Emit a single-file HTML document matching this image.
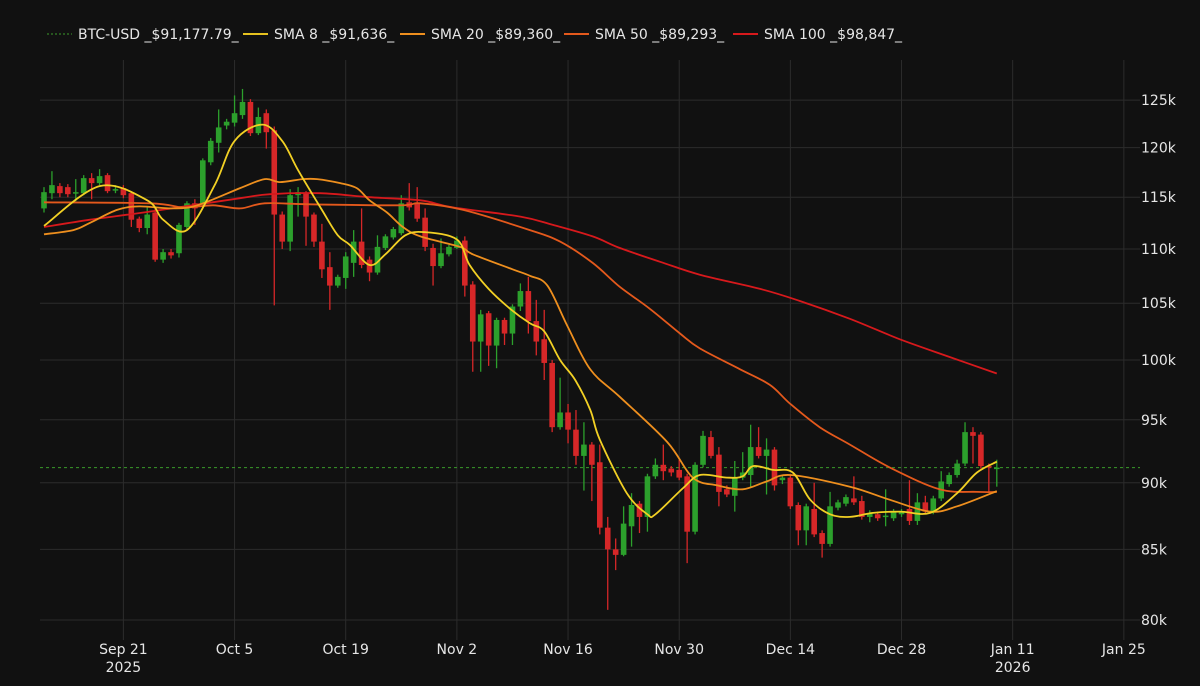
<!DOCTYPE html>
<html><head><meta charset="utf-8"><style>
html,body{margin:0;padding:0;background:#111111;}
svg{display:block;font-family:"DejaVu Sans","Liberation Sans",sans-serif;}
</style></head><body>
<svg id="chart" width="1200" height="686" viewBox="0 0 1200 686">
<rect x="0" y="0" width="1200" height="686" fill="#111111"/>
<g id="grid"></g>
<g id="axes"></g>
<g id="candles"></g>
<g id="smas"></g>
<g id="legend"></g>
</svg>
<script>
// ---- data (prices in $k; day index 0 = Sep 11 2025) ----
const openP = [113.9,115.4,116.1,116.0,115.4,115.4,116.9,116.4,117.2,115.8,115.9,115.4,112.9,112.0,113.5,109.0,109.7,109.6,112.1,114.4,114.4,118.5,120.5,122.3,122.6,123.4,124.8,121.5,123.6,121.8,113.3,110.7,115.2,115.4,113.3,110.7,108.3,106.6,107.3,108.7,110.7,109.0,107.8,110.1,111.1,111.5,114.5,114.4,113.0,110.1,108.4,109.5,110.1,110.8,106.7,101.6,104.1,101.25,103.5,102.3,104.7,106.1,103.4,101.8,99.75,94.4,95.6,94.2,92.1,93.0,91.6,86.6,85.0,84.6,86.7,88.4,87.4,90.5,91.4,91.1,91.0,90.5,86.3,91.4,93.6,92.2,89.5,89.0,90.4,90.6,92.8,92.1,92.6,90.2,90.4,88.3,86.4,88.0,86.2,85.4,88.1,88.4,88.8,88.6,87.4,87.6,87.4,87.3,87.6,88.0,87.1,88.5,87.8,88.8,89.9,90.6,91.5,94.0,93.8,91.3,91.1];
const closeP = [115.5,116.2,115.4,115.3,115.5,116.9,116.4,117.1,115.6,115.8,115.2,112.8,112.0,113.3,109.0,109.7,109.4,112.3,114.4,113.9,118.7,120.7,122.1,122.7,123.6,124.8,121.5,123.2,121.6,113.3,110.7,115.2,115.5,113.1,110.7,108.1,106.6,107.4,109.3,110.7,108.5,107.8,110.2,111.2,111.9,114.4,114.0,112.9,110.2,108.4,109.6,110.2,110.8,106.6,101.6,104.0,101.25,103.5,102.3,104.7,106.1,103.4,101.6,99.75,94.4,95.6,94.2,92.1,93.0,91.4,86.6,85.0,84.6,86.9,88.3,87.4,90.5,91.4,90.9,90.8,90.4,86.3,91.4,93.7,92.1,89.3,89.1,90.4,90.8,92.8,92.1,92.6,89.8,90.4,88.2,86.4,88.2,86.1,85.4,88.2,88.5,88.9,88.5,87.4,87.7,87.3,87.5,87.8,87.8,87.1,88.5,87.8,88.8,90.1,90.6,91.5,94.0,93.7,91.3,91.2,91.18];
const highP = [116.0,117.6,116.4,116.3,116.8,117.2,117.4,117.8,117.4,116.2,116.2,115.6,113.1,114.0,114.0,110.0,110.0,112.5,114.6,114.8,118.9,121.0,124.0,123.0,125.5,126.2,125.1,124.2,124.0,122.2,113.6,115.8,116.0,115.6,113.5,112.4,109.7,107.6,109.7,111.8,113.9,109.3,111.3,111.4,112.1,115.2,116.4,116.0,113.9,110.5,111.0,110.4,111.2,111.2,107.0,104.4,104.3,103.7,103.7,104.9,106.8,107.4,105.3,104.4,100.0,98.5,96.3,95.8,94.8,93.2,93.0,87.4,85.8,88.2,89.2,88.6,90.7,91.9,93.0,91.3,91.8,90.7,91.6,94.1,94.1,92.8,89.8,91.7,92.4,94.6,94.4,93.5,92.8,90.6,90.6,88.5,88.4,90.0,86.4,89.3,88.7,89.1,90.5,89.0,87.9,87.8,89.5,88.0,88.0,90.2,89.2,89.0,89.0,90.9,90.8,91.8,94.8,94.4,94.0,91.5,91.8];
const lowP = [113.5,114.8,115.0,115.0,114.6,115.2,114.8,116.2,115.4,115.4,114.9,112.1,111.6,111.4,108.8,108.7,109.1,109.2,111.8,112.3,114.0,118.2,119.5,121.9,122.2,123.0,121.2,121.3,119.9,104.8,110.0,109.8,113.1,110.3,110.2,107.3,104.4,106.4,106.3,107.4,108.2,107.0,107.6,109.9,110.9,111.3,113.7,112.6,109.8,106.6,108.2,109.3,110.0,105.6,99.0,99.0,99.5,99.3,101.3,101.3,104.3,102.3,100.4,98.3,94.0,94.2,93.1,91.4,89.4,88.6,86.1,80.7,83.5,84.5,85.2,86.2,86.3,90.3,90.2,90.5,90.2,84.0,86.1,91.2,91.9,88.2,88.9,87.8,90.2,89.6,91.9,89.1,89.4,89.9,88.0,85.3,85.3,85.9,84.4,85.2,87.9,88.2,88.3,87.2,87.0,87.1,86.7,87.1,87.4,86.8,86.8,87.6,87.6,88.6,89.7,90.4,91.3,91.5,91.1,89.3,89.7];
// moving averages: [day index, price $k]
const sma8Pts = [[0,112.2],[7,116.1],[13,114.7],[15,112.8],[18,111.8],[21.5,116.2],[24,120.7],[27.5,122.4],[30,120.7],[32,117.7],[35,113.75],[37,111.3],[38.5,110.4],[41,108.5],[43,109.5],[45.5,111.3],[48,111.6],[52,110.9],[53.6,108.5],[56,106.3],[58.7,104.5],[61.2,103.2],[63,102.5],[65,100.0],[66.9,98.3],[68.8,95.8],[70,93.4],[73.4,89.2],[76,87.6],[77,87.6],[80.5,89.6],[82.6,90.6],[86,90.4],[88,90.5],[89.3,91.3],[91.8,91.0],[94.3,90.8],[96.5,88.7],[99,87.6],[101.5,87.4],[104.4,87.7],[107.8,87.8],[111.6,87.7],[115,89.2],[117.5,90.8],[120,91.64]];
const sma20Pts = [[0,111.4],[3.7,111.8],[5.8,112.5],[9.2,113.75],[12,114.1],[16.2,113.9],[19.3,114.2],[24.7,115.9],[27.8,116.8],[29.7,116.5],[32.6,116.8],[34.4,116.8],[37.3,116.4],[39.4,115.9],[41,114.7],[43.2,113.5],[45.2,112.1],[47.4,111.2],[52.4,110.2],[54,109.5],[59,108.1],[61.2,107.5],[63.4,106.6],[65.9,103.0],[68.8,99.2],[72.5,96.9],[78.5,93.2],[81.7,90.4],[84.8,89.8],[88,89.5],[91,90.1],[94,90.6],[101.5,89.7],[106.5,88.7],[111.6,87.8],[115,88.2],[120,89.36]];
const sma50Pts = [[0,114.5],[13.4,114.4],[17.5,114.0],[21.3,114.2],[24.7,113.9],[27.8,114.4],[33.5,114.3],[44.8,114.2],[47.4,114.4],[52.8,113.75],[61.2,111.8],[65,110.7],[69.1,108.7],[72.5,106.5],[76.3,104.5],[80.1,102.3],[82.6,101.0],[87.7,99.2],[91.4,97.9],[94,96.3],[97.7,94.4],[101.5,93.0],[106.5,91.2],[112.8,89.5],[117.5,89.3],[120,89.29]];
const sma100Pts = [[0,112.1],[5.8,112.8],[13.4,113.6],[24.7,114.9],[28.5,115.3],[34.8,115.4],[41,115.0],[47.4,114.7],[51.5,114.0],[60,113.1],[64.1,112.3],[69.1,111.2],[72.5,110.1],[77.6,108.8],[82.6,107.6],[90.2,106.3],[95.2,105.2],[101.5,103.6],[107.8,101.8],[114.1,100.25],[120,98.85]];
const lastPrice = 91.17779;
const yTicks = [80,85,90,95,100,105,110,115,120,125];
const xTickDays = [10,24,38,52,66,80,94,108,122,136];
const xTickLabels = ["Sep 21","Oct 5","Oct 19","Nov 2","Nov 16","Nov 30","Dec 14","Dec 28","Jan 11","Jan 25"];
const xTickYears = ["2025","","","","","","","","2026",""];
const legendLabels = ["BTC-USD _$91,177.79_","SMA 8 _$91,636_","SMA 20 _$89,360_","SMA 50 _$89,293_","SMA 100 _$98,847_"];

// ---- scales ----
const NS="http://www.w3.org/2000/svg";
const X0=44, DX=7.94, PLOT_L=40, PLOT_R=1140, PLOT_T=60, PLOT_B=640;
function xs(d){return X0+DX*d;}
function ys(p){return 620-1165*Math.log(p/80);}
function mk(tag,attrs,parent){const e=document.createElementNS(NS,tag);for(const k in attrs)e.setAttribute(k,attrs[k]);parent.appendChild(e);return e;}
const grid=document.getElementById('grid'), axes=document.getElementById('axes');
yTicks.forEach(v=>{
  const y=ys(v);
  const l=mk('line',{x1:PLOT_L,x2:PLOT_R,y1:y,y2:y,stroke:'#2c2c2c','stroke-width':1},grid);
  
  
  const t=mk('text',{x:1141,y:y+5,fill:'#e6e6e6','font-size':14},axes);
  t.textContent=v+'k';
  
  
});
xTickDays.forEach((d,i)=>{
  const x=xs(d);
  const l=mk('line',{x1:x,x2:x,y1:PLOT_T,y2:PLOT_B,stroke:'#2c2c2c','stroke-width':1},grid);
  
  
  const t=mk('text',{x:x,y:654,fill:'#e6e6e6','font-size':14,'text-anchor':'middle'},axes);
  t.textContent=xTickLabels[i];
  
  
  if(xTickYears[i]){
    const t2=mk('text',{x:x,y:672,fill:'#e6e6e6','font-size':14,'text-anchor':'middle'},axes);
    t2.textContent=xTickYears[i];
    
    
  }
});
const lp=mk('line',{x1:PLOT_L,x2:PLOT_R,y1:ys(lastPrice),y2:ys(lastPrice),stroke:'#3a9a2a','stroke-width':1,'stroke-dasharray':'3,3'},grid);



// candles
const cg=document.getElementById('candles');
openP.forEach((o,i)=>{
  const c=closeP[i], up=c>=o, col=up?'#2ca02c':'#d62728', x=xs(i);
  const w=mk('line',{x1:x,x2:x,y1:ys(highP[i]),y2:ys(lowP[i]),stroke:col,'stroke-width':1.3},cg);
  
  
  const yt=ys(Math.max(o,c)), yb=ys(Math.min(o,c));
  const r=mk('rect',{x:x-2.8,y:yt,width:5.6,height:Math.max(1.5,yb-yt),fill:col},cg);
  
  
});

// SMA lines (smoothed with Catmull-Rom)
const sg=document.getElementById('smas');
function line(pts,col,name){
  const P=pts.map(p=>[xs(p[0]),ys(p[1])]);
  let d='M'+P[0][0].toFixed(1)+','+P[0][1].toFixed(1);
  for(let i=0;i<P.length-1;i++){
    const p0=P[Math.max(0,i-1)],p1=P[i],p2=P[i+1],p3=P[Math.min(P.length-1,i+2)];
    const c1=[p1[0]+(p2[0]-p0[0])/6,p1[1]+(p2[1]-p0[1])/6];
    const c2=[p2[0]-(p3[0]-p1[0])/6,p2[1]-(p3[1]-p1[1])/6];
    d+=' C'+c1[0].toFixed(1)+','+c1[1].toFixed(1)+' '+c2[0].toFixed(1)+','+c2[1].toFixed(1)+' '+p2[0].toFixed(1)+','+p2[1].toFixed(1);
  }
  const e=mk('path',{d:d,fill:'none',stroke:col,'stroke-width':1.8,'stroke-linejoin':'round'},sg);
  
  
}
line(sma100Pts,'#d7191c','sma-100-line');
line(sma50Pts,'#e4591c','sma-50-line');
line(sma20Pts,'#ee8f1e','sma-20-line');
line(sma8Pts,'#f2d024','sma-8-line');

// legend
const lg=document.getElementById('legend');
const legCols=['#3a9a2a','#e6c21f','#ee8f1e','#e4591c','#d7191c'];
const legX=[47,243,400,564,733];
legendLabels.forEach((lab,i)=>{
  const g=mk('g',{},lg);
  
  
  const attrs={x1:legX[i],x2:legX[i]+25,y1:34,y2:34,stroke:legCols[i],'stroke-width':i?2:1};
  if(!i)attrs['stroke-dasharray']='2,2';
  const l=mk('line',attrs,g);
  
  
  const t=mk('text',{x:legX[i]+31,y:39,fill:'#e6e6e6','font-size':14},g);
  t.textContent=lab;
  
  
});
</script>
</body></html>
